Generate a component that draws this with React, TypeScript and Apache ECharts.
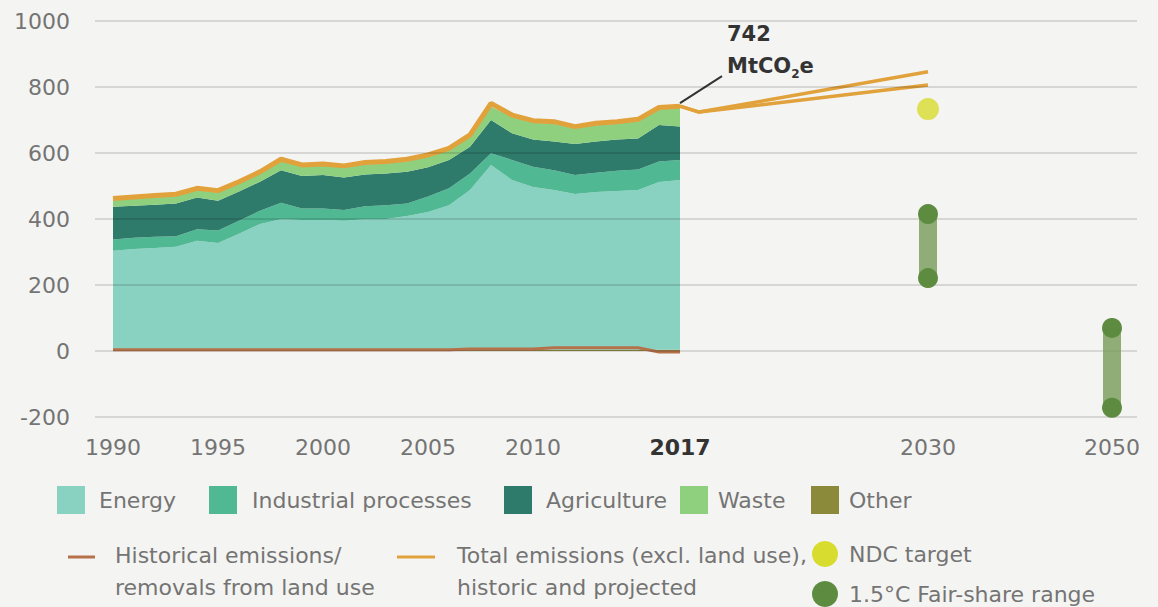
import React, { useEffect, useRef } from "react";
import * as echarts from "echarts";

const years = [1990, 1991, 1992, 1993, 1994, 1995, 1996, 1997, 1998, 1999, 2000, 2001, 2002, 2003, 2004, 2005, 2006, 2007, 2008, 2009, 2010, 2011, 2012, 2013, 2014, 2015, 2016, 2017];
const other = [4, 4, 4, 4, 4, 4, 4, 4, 4, 4, 4, 4, 4, 4, 4, 4, 4, 4, 4, 4, 4, 4, 4, 4, 4, 4, 4, 4];
const energy = [300, 305, 308, 312, 330, 323, 351, 381, 395, 393, 393, 391, 395, 396, 405, 417, 438, 484, 560, 514, 493, 484, 472, 478, 481, 484, 508, 514];
const industrial = [34, 34, 34, 32, 35, 38, 40, 40, 50, 35, 35, 32, 40, 42, 38, 47, 51, 50, 35, 61, 61, 60, 57, 58, 61, 62, 62, 61];
const agriculture = [99, 97, 97, 99, 96, 90, 88, 88, 99, 98, 101, 99, 96, 96, 96, 89, 86, 81, 101, 81, 83, 87, 94, 95, 95, 94, 111, 101];
const waste = [19, 21, 22, 22, 22, 25, 24, 24, 27, 28, 28, 29, 30, 30, 32, 31, 29, 30, 40, 49, 51, 54, 47, 49, 48, 52, 47, 56];
const totalHistoric = [462, 467, 471, 475, 493, 486, 513, 543, 581, 564, 567, 561, 571, 574, 581, 594, 614, 655, 750, 715, 698, 695, 680, 690, 695, 702, 738, 742];
const landUse = [4, 4, 4, 4, 4, 4, 4, 4, 4, 4, 4, 4, 4, 4, 4, 4, 4, 6, 6, 6, 6, 10, 10, 10, 10, 10, -3, -3];

const projYears = [2017, 2018, 2030];
const projHigh = [742, 724, 846];
const projLow = [742, 724, 806];

const ndcYear = 2030;
const ndcValue = 733;
const fairShare2030 = [415, 221];
const fairShare2050 = [70, -172];

const xTicksHist = [1990, 1995, 2000, 2005, 2010, 2017];
const FONT = "DejaVu Sans";
const FS = 22;
const C = {
  energy: "#89d1c1",
  industrial: "#50b994",
  agriculture: "#2f7b6b",
  waste: "#8fd07f",
  other: "#8b8a3a",
  total: "#e1a23c",
  land: "#b5714a",
  ndc: "#d8dc2e",
  fairDot: "#5d8b40",
  fairBar: "rgba(120,155,88,0.8)",
  text: "#747474",
};

export default function App() {
  const ref = useRef<HTMLDivElement>(null);
  useEffect(() => {
    if (!ref.current) return;
    const chart = echarts.init(ref.current, null, { renderer: "svg" });
    const top = 21;
    const bottom = 190;
    const yBase = { min: -200, max: 1000, interval: 200, show: false, splitLine: { show: false } };
    const area = (name: string, arr: number[], color: string) => ({
      name,
      type: "line",
      xAxisIndex: 1,
      yAxisIndex: 1,
      stack: "total",
      data: arr,
      symbol: "none",
      lineStyle: { width: 0 },
      areaStyle: { color, opacity: 1 },
      itemStyle: { color },
    });
    const labelStyle = {
      show: true,
      margin: 19,
      fontFamily: FONT,
      fontSize: FS,
      color: C.text,
      formatter: (v: any) => (String(v) === "2017" ? "{b|2017}" : String(v)),
      rich: { b: { fontFamily: FONT, fontSize: FS, fontWeight: "bold", color: "#333" } },
    };
    const xCommon = {
      axisLine: { show: false },
      axisTick: { show: false },
      splitLine: { show: false },
    };
    chart.setOption({
      animation: false,
      backgroundColor: "#f4f4f2",
      grid: [
        { left: 95, right: 21, top, bottom },
        { left: 113, width: 567, top, bottom },
        { left: 680, width: 248, top, bottom },
        { left: 928, width: 184, top, bottom },
      ],
      xAxis: [
        { type: "value", gridIndex: 0, show: false, min: 0, max: 1 },
        {
          ...xCommon,
          type: "category",
          gridIndex: 1,
          boundaryGap: false,
          data: years.map(String),
          axisLabel: { ...labelStyle, interval: (_i: number, v: string) => xTicksHist.includes(Number(v)) },
        },
        { ...xCommon, type: "value", gridIndex: 2, min: 2017, max: 2030, axisLabel: { ...labelStyle, customValues: [2030], showMaxLabel: true } },
        { ...xCommon, type: "value", gridIndex: 3, min: 2030, max: 2050, axisLabel: { ...labelStyle, customValues: [2050], showMaxLabel: true } },
      ],
      yAxis: [
        {
          type: "value",
          gridIndex: 0,
          min: -200,
          max: 1000,
          interval: 200,
          z: 5,
          axisLine: { show: false },
          axisTick: { show: false },
          axisLabel: { margin: 25, fontFamily: FONT, fontSize: FS, color: C.text, formatter: (v: number) => String(v) },
          splitLine: { show: true, lineStyle: { color: "rgba(0,0,0,0.12)", width: 2 } },
        },
        { ...yBase, type: "value", gridIndex: 1 },
        { ...yBase, type: "value", gridIndex: 2 },
        { ...yBase, type: "value", gridIndex: 3 },
      ],
      series: [
        area("Other", other, C.other),
        area("Energy", energy, C.energy),
        area("Industrial processes", industrial, C.industrial),
        area("Agriculture", agriculture, C.agriculture),
        area("Waste", waste, C.waste),
        {
          name: "Total emissions",
          type: "line",
          xAxisIndex: 1,
          yAxisIndex: 1,
          data: totalHistoric,
          symbol: "none",
          lineStyle: { color: C.total, width: 5 },
          z: 4,
        },
        {
          name: "Land use",
          type: "line",
          xAxisIndex: 1,
          yAxisIndex: 1,
          data: landUse,
          symbol: "none",
          lineStyle: { color: C.land, width: 3 },
          z: 4,
        },
        {
          name: "Projection high",
          type: "line",
          xAxisIndex: 2,
          yAxisIndex: 2,
          data: projYears.map((y, i) => [y, projHigh[i]]),
          symbol: "none",
          lineStyle: { color: C.total, width: 3.5 },
          z: 4,
        },
        {
          name: "Projection low",
          type: "line",
          xAxisIndex: 2,
          yAxisIndex: 2,
          data: projYears.map((y, i) => [y, projLow[i]]),
          symbol: "none",
          lineStyle: { color: C.total, width: 3.5 },
          z: 4,
        },
        {
          name: "Fair share 2030",
          type: "line",
          xAxisIndex: 2,
          yAxisIndex: 2,
          clip: false,
          data: fairShare2030.map((v) => [2030, v]),
          symbol: "circle",
          symbolSize: 20,
          showAllSymbol: true,
          itemStyle: { color: C.fairDot },
          lineStyle: { color: C.fairBar, width: 18, cap: "round" },
          z: 6,
        },
        {
          name: "Fair share 2050",
          type: "line",
          xAxisIndex: 3,
          yAxisIndex: 3,
          clip: false,
          data: fairShare2050.map((v) => [2050, v]),
          symbol: "circle",
          symbolSize: 20,
          showAllSymbol: true,
          itemStyle: { color: C.fairDot },
          lineStyle: { color: C.fairBar, width: 18, cap: "round" },
          z: 6,
        },
        {
          name: "NDC target",
          type: "scatter",
          xAxisIndex: 2,
          yAxisIndex: 2,
          clip: false,
          data: [[ndcYear, ndcValue]],
          symbolSize: 22,
          itemStyle: { color: C.ndc },
          z: 6,
        },
      ],
    });

    const p = chart.convertToPixel({ xAxisIndex: 1, yAxisIndex: 1 }, [years.length - 1, totalHistoric[totalHistoric.length - 1]]) as number[];
    const txt = (x: number, y: number, text: string, extra: any = {}) => ({
      type: "text",
      x,
      y,
      style: { text, fontFamily: FONT, fontSize: FS, fill: C.text, verticalAlign: "middle", ...extra },
    });
    const sq = (x: number, color: string) => ({ type: "rect", shape: { x, y: 486, width: 28, height: 28 }, style: { fill: color } });
    const graphic: any[] = [
      sq(57, C.energy), txt(99, 500, "Energy"),
      sq(209, C.industrial), txt(252, 500, "Industrial processes"),
      sq(504, C.agriculture), txt(546, 500, "Agriculture"),
      sq(680, C.waste), txt(718, 500, "Waste"),
      sq(811, C.other), txt(849, 500, "Other"),
      { type: "line", shape: { x1: 68, y1: 557, x2: 95, y2: 557 }, style: { stroke: C.land, lineWidth: 3 } },
      txt(115, 555, "Historical emissions/"),
      txt(115, 587, "removals from land use"),
      { type: "line", shape: { x1: 397, y1: 557, x2: 435, y2: 557 }, style: { stroke: C.total, lineWidth: 3 } },
      txt(457, 555, "Total emissions (excl. land use),"),
      txt(457, 587, "historic and projected"),
      { type: "circle", shape: { cx: 825, cy: 554, r: 13 }, style: { fill: C.ndc } },
      txt(849, 554, "NDC target"),
      { type: "circle", shape: { cx: 825, cy: 594, r: 13 }, style: { fill: C.fairDot } },
      txt(849, 594, "1.5\u00b0C Fair-share range"),
      { type: "line", shape: { x1: p[0], y1: p[1] - 3, x2: p[0] + 42, y2: p[1] - 30 }, style: { stroke: "#333", lineWidth: 2 } },
      {
        type: "text",
        x: p[0] + 47,
        y: p[1] - 72,
        style: { text: "742", fontFamily: FONT, fontSize: 21, fontWeight: "bold", fill: "#333", verticalAlign: "middle" },
      },
      {
        type: "text",
        x: p[0] + 47,
        y: p[1] - 40,
        style: {
          text: "{a|MtCO}{s|2}{a|e}",
          verticalAlign: "middle",
          rich: {
            a: { fontFamily: FONT, fontSize: 21, fontWeight: "bold", fill: "#333", color: "#333" },
            s: { fontFamily: FONT, fontSize: 12, fontWeight: "bold", color: "#333", fill: "#333", padding: [16, 0, 0, 0] },
          },
        },
      },
    ];
    chart.setOption({ graphic });
    return () => chart.dispose();
  }, []);
  return <div ref={ref} style={{ position: "fixed", left: 0, top: 0, width: 1158, height: 607 }} />;
}
